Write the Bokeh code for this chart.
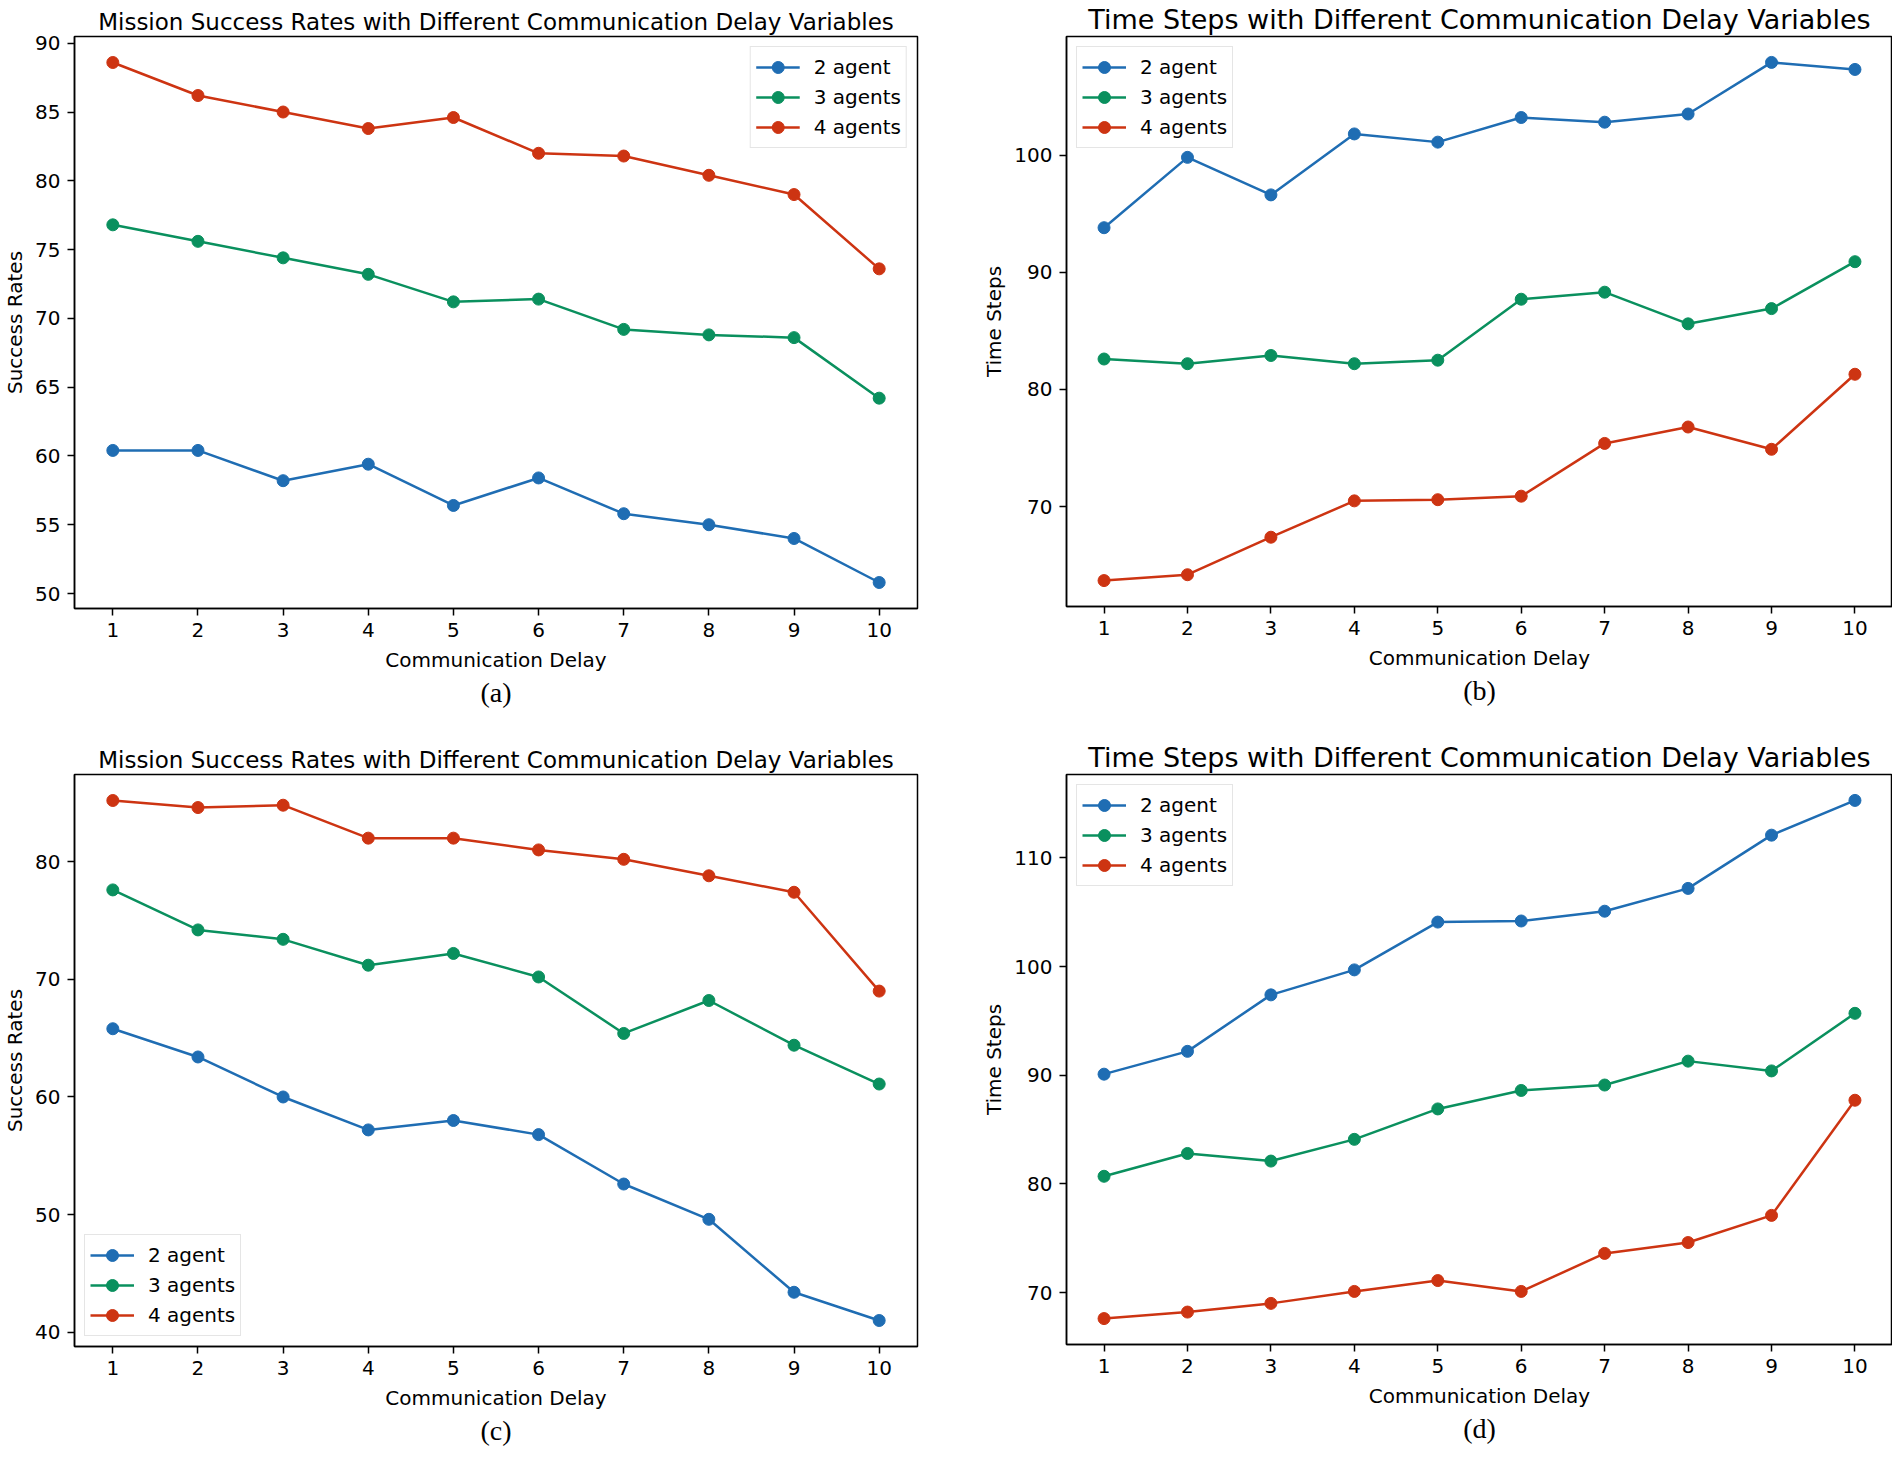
from bokeh.plotting import figure
from bokeh.layouts import column, row
from bokeh.models import Range1d, FixedTicker, Title
from bokeh.embed import file_html
from bokeh.resources import INLINE

delays = [1, 2, 3, 4, 5, 6, 7, 8, 9, 10]
series_names = ["2 agent", "3 agents", "4 agents"]

# (a) success rates
a_two = [60.4, 60.4, 58.2, 59.4, 56.4, 58.4, 55.8, 55.0, 54.0, 50.8]
a_three = [76.8, 75.6, 74.4, 73.2, 71.2, 71.4, 69.2, 68.8, 68.6, 64.2]
a_four = [88.6, 86.2, 85.0, 83.8, 84.6, 82.0, 81.8, 80.4, 79.0, 73.6]
a_yticks = [50, 55, 60, 65, 70, 75, 80, 85, 90]

# (b) time steps
b_two = [93.8, 99.8, 96.6, 101.8, 101.1, 103.2, 102.8, 103.5, 107.9, 107.3]
b_three = [82.6, 82.2, 82.9, 82.2, 82.5, 87.7, 88.3, 85.6, 86.9, 90.9]
b_four = [63.7, 64.2, 67.4, 70.5, 70.6, 70.9, 75.4, 76.8, 74.9, 81.3]
b_yticks = [70, 80, 90, 100]

# (c) success rates
c_two = [65.8, 63.4, 60.0, 57.2, 58.0, 56.8, 52.6, 49.6, 43.4, 41.0]
c_three = [77.6, 74.2, 73.4, 71.2, 72.2, 70.2, 65.4, 68.2, 64.4, 61.1]
c_four = [85.2, 84.6, 84.8, 82.0, 82.0, 81.0, 80.2, 78.8, 77.4, 69.0]
c_yticks = [40, 50, 60, 70, 80]

# (d) time steps
d_two = [90.1, 92.2, 97.4, 99.7, 104.1, 104.2, 105.1, 107.2, 112.1, 115.3]
d_three = [80.7, 82.8, 82.1, 84.1, 86.9, 88.6, 89.1, 91.3, 90.4, 95.7]
d_four = [67.6, 68.2, 69.0, 70.1, 71.1, 70.1, 73.6, 74.6, 77.1, 87.7]
d_yticks = [70, 80, 90, 100, 110]

COLORS = ["#1f6db3", "#0a905e", "#cd3412"]
FONT = "DejaVu Sans"


def padded(vals, frac=0.05):
    lo, hi = min(vals), max(vals)
    m = (hi - lo) * frac
    return lo - m, hi + m


def make_panel(title, title_size, ylabel, data, yticks, legend_loc, caption,
               bl, fw, br, bt, fh, bb):
    allv = [v for s in data for v in s]
    ylo, yhi = padded(allv)
    xlo, xhi = padded(delays)
    p = figure(frame_width=fw, frame_height=fh,
               min_border_left=bl, min_border_right=br,
               min_border_top=bt, min_border_bottom=bb,
               x_range=Range1d(xlo, xhi), y_range=Range1d(ylo, yhi),
               output_backend="svg", toolbar_location=None)
    p.title.text = title
    p.title.text_font = FONT
    p.title.text_font_size = title_size
    p.title.text_font_style = "normal"
    p.title.text_color = "black"
    p.title.align = "center"
    p.title.standoff = 3
    p.title.offset = 0
    p.background_fill_color = "white"
    p.border_fill_color = "white"
    p.outline_line_color = "black"
    p.outline_line_width = 1.5
    p.outline_line_alpha = 1.0
    p.xgrid.visible = False
    p.ygrid.visible = False

    for ax in (p.xaxis[0], p.yaxis[0]):
        ax.axis_line_color = "black"
        ax.axis_line_width = 1.5
        ax.major_tick_line_color = "black"
        ax.major_tick_line_width = 1.5
        ax.major_tick_out = 7
        ax.major_tick_in = 0
        ax.minor_tick_out = 0
        ax.minor_tick_in = 0
        ax.major_label_text_font = FONT
        ax.major_label_text_font_size = "20px"
        ax.major_label_text_color = "black"
        ax.axis_label_text_font = FONT
        ax.axis_label_text_font_size = "20px"
        ax.axis_label_text_font_style = "normal"
        ax.axis_label_text_color = "black"
        ax.major_label_standoff = 7
        ax.axis_label_standoff = 8

    p.xaxis.ticker = FixedTicker(ticks=delays)
    p.yaxis.ticker = FixedTicker(ticks=yticks)
    p.xaxis.axis_label = "Communication Delay"
    p.yaxis.axis_label = ylabel
    p.yaxis.axis_label_standoff = 5

    for name, vals, col in zip(series_names, data, COLORS):
        p.line(delays, vals, line_color=col, line_width=2.5, legend_label=name)
        p.scatter(delays, vals, size=12, fill_color=col, line_color=col,
                  legend_label=name)

    lg = p.legend[0]
    lg.location = legend_loc
    lg.label_text_font = FONT
    lg.label_text_font_size = "20px"
    lg.label_text_color = "black"
    lg.glyph_width = 44
    lg.glyph_height = 30
    lg.label_height = 24
    lg.label_standoff = 14
    lg.spacing = 0
    lg.padding = 5
    lg.margin = 10
    lg.border_line_color = "#cccccc"
    lg.border_line_width = 1.5
    lg.background_fill_alpha = 0.85

    cap = Title(text=caption, align="center", text_font="Liberation Serif",
                text_font_size="28px", text_font_style="normal",
                text_color="black", standoff=0)
    p.add_layout(cap, "below")
    return p


p1 = make_panel("Mission Success Rates with Different Communication Delay Variables", "23px",
                "Success Rates", [a_two, a_three, a_four], a_yticks, "top_right", "(a)",
                65, 843, 40, 25, 572, 132)
p2 = make_panel("Time Steps with Different Communication Delay Variables", "27px",
                "Time Steps", [b_two, b_three, b_four], b_yticks, "top_left", "(b)",
                109, 826, 0, 25, 570, 132)
p3 = make_panel("Mission Success Rates with Different Communication Delay Variables", "23px",
                "Success Rates", [c_two, c_three, c_four], c_yticks, "bottom_left", "(c)",
                65, 843, 40, 25, 572, 114)
p4 = make_panel("Time Steps with Different Communication Delay Variables", "27px",
                "Time Steps", [d_two, d_three, d_four], d_yticks, "top_left", "(d)",
                109, 826, 0, 25, 570, 114)

layout = column(row(p1, p2, spacing=0), row(p3, p4, spacing=0), spacing=0)

open("out.html", "w").write(file_html(layout, INLINE))
